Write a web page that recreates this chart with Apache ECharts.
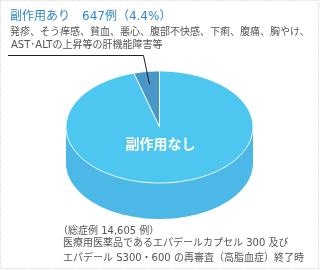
<!DOCTYPE html>
<html><head><meta charset="utf-8">
<script src="https://cdn.jsdelivr.net/npm/echarts@6/dist/echarts.min.js"></script>
<style>html,body{margin:0;padding:0;background:#fff;}#c{width:320px;height:270px;}</style>
</head><body><div id="c"></div>
<script>
const categories = ['副作用あり', '副作用なし'];
const values = [647, 13958];
const totalCases = 14605;
const detailLines = [
  '発疹、そう痒感、貧血、悪心、腹部不快感、下痢、腹痛、胸やけ、',
  'AST･ALTの上昇等の肝機能障害等'
];
const noteLines = [
  '（総症例 14,605 例）',
  '医療用医薬品であるエパデールカプセル 300 及び',
  'エパデール S300・600 の再審査（高脂血症）終了時'
];
const topColors = ['#4a96c9', '#4dc7f0'];
const sideColors = ['#3f86b8', '#4bb8e7'];

const FONT = '"DejaVu Sans", "Noto Sans CJK JP", sans-serif';
const CJK = '"Noto Sans CJK JP", sans-serif';
const total = values.reduce((a, b) => a + b, 0);
const cx = 159.5, cy = 127, rx = 93.5, ry = 56, depth = 36;
function pt(th, dy) { return [cx + rx * Math.cos(th), cy + dy - ry * Math.sin(th)]; }
function range(i) {
  let before = 0;
  for (let k = 0; k < i; k++) before += values[k];
  const a = Math.PI / 2 + 2 * Math.PI * before / total;
  const b = a + 2 * Math.PI * values[i] / total;
  return [a, b];
}
function arcPts(a, b, dy) {
  const n = Math.max(2, Math.ceil((b - a) / (2 * Math.PI) * 180));
  const out = [];
  for (let j = 0; j <= n; j++) out.push(pt(a + (b - a) * j / n, dy));
  return out;
}

function renderSide(params, api) {
  const i = params.dataIndex;
  const [a, b] = range(i);
  const children = [];
  [[Math.PI, 2 * Math.PI], [3 * Math.PI, 4 * Math.PI]].forEach(([lo, hi]) => {
    const s = Math.max(a, lo), e = Math.min(b, hi);
    if (e > s) {
      const top = arcPts(s, e, 0);
      const bot = arcPts(s, e, depth).reverse();
      children.push({
        type: 'polygon',
        shape: { points: top.concat(bot) },
        style: { fill: sideColors[i], stroke: null }
      });
    }
  });
  return { type: 'group', children };
}

function renderTop(params, api) {
  const i = params.dataIndex;
  const [a, b] = range(i);
  const pts = [[cx, cy]].concat(arcPts(a, b, 0));
  const children = [{
    type: 'polygon',
    shape: { points: pts },
    style: { fill: topColors[i], stroke: 'rgba(255,255,255,0.85)', lineWidth: 1, lineJoin: 'round' }
  }];
  if (i === 0) {
    const mid = (a + b) / 2;
    const anc = [cx + rx * 0.77 * Math.cos(mid), cy - ry * 0.77 * Math.sin(mid)];
    children.push({
      type: 'polyline',
      z2: 10,
      shape: { points: [anc, [143.5, 55.5], [8, 55.5]] },
      style: { stroke: '#222', lineWidth: 1, fill: null }
    });
  } else {
    children.push({
      type: 'text',
      z2: 10,
      style: {
        text: categories[i],
        x: cx + 1, y: cy + 17, align: 'center', verticalAlign: 'middle',
        fill: '#fff', font: 'bold 14px ' + CJK
      }
    });
  }
  return { type: 'group', children };
}

const chart = echarts.init(document.getElementById('c'), null, { renderer: 'canvas' });
const pct = (values[0] / totalCases * 100).toFixed(1);
chart.setOption({
  animation: false,
  series: [
    { type: 'custom', coordinateSystem: 'none', z: 1, data: values, renderItem: renderSide, silent: true },
    { type: 'custom', coordinateSystem: 'none', z: 2, data: values, renderItem: renderTop, silent: true }
  ],
  graphic: [
    { type: 'rect', shape: { x: 0.5, y: 0.5, width: 318, height: 268 },
      style: { fill: null, stroke: '#c4c4c4', lineWidth: 1, lineDash: [1, 2] }, z: 0 },
    { type: 'text', left: 10, top: 11,
      style: { text: categories[0] + '　' + values[0] + '例（' + pct + '%）', fill: '#2f86cc', font: '12px ' + FONT } },
    { type: 'text', left: 10, top: 27,
      style: { text: detailLines[0], fill: '#555', font: '10px ' + FONT } },
    { type: 'text', left: 11, top: 40,
      style: { text: detailLines[1], fill: '#555', font: '10px ' + FONT } },
    { type: 'text', left: 58, top: 226,
      style: { text: noteLines[0], fill: '#555', font: '10px ' + FONT } },
    { type: 'text', left: 63, top: 238,
      style: { text: noteLines[1], fill: '#555', font: '10px ' + FONT } },
    { type: 'text', left: 63, top: 253,
      style: { text: noteLines[2], fill: '#555', font: '10px ' + FONT } }
  ]
});
</script></body></html>
